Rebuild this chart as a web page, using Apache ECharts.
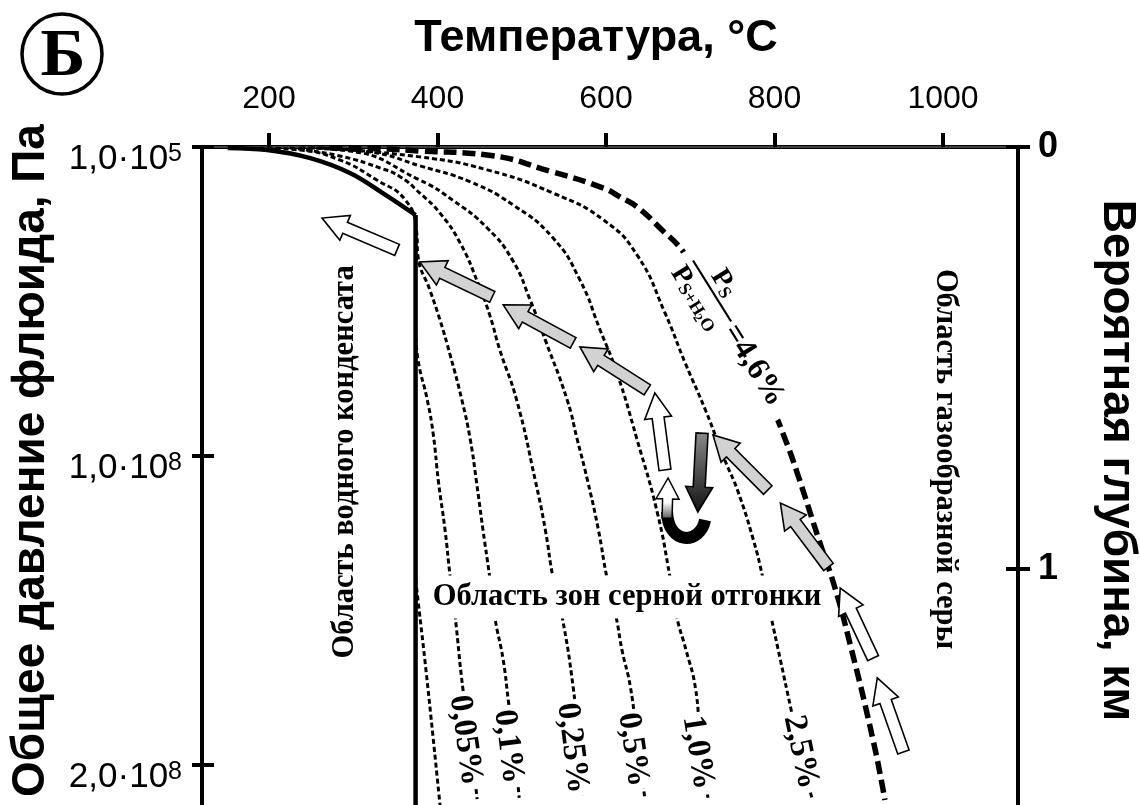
<!DOCTYPE html>
<html><head><meta charset="utf-8">
<script src="https://cdn.jsdelivr.net/npm/echarts@6/dist/echarts.min.js"></script>
<style>html,body{margin:0;padding:0;background:#fff}#c{width:1140px;height:805px}</style>
</head><body><div id="c"></div>
<script>
// ---- axis ticks / labels ----
const tempTicks = [200, 400, 600, 800, 1000];
const pressureTicks = [0, 1, 2];                 // units of 1e8 Pa (top = 1e5 Pa)
const pressureTickLabels = ['1,0·10{s|5}', '1,0·10{s|8}', '2,0·10{s|8}'];
const depthTicks = [0, 1];
const depthTickLabels = ['0', '1'];

// ---- curves: [temperature °C, pressure 1e8 Pa] ----
const waterCurve = [[151,0.003],[198,0.010],[249,0.036],[296,0.084],[335,0.149],[374,0.22]];
const criticalLine = [[374,0.22],[374,2.13]];
const iso000 = [[374,1.40],[377,1.47],[385,1.66],[394,1.89],[403,2.13]];
const iso005 = [[374,0.59],[377,0.69],[388,0.82],[395,0.93],[401,1.08],[409,1.24],[415,1.39],[421,1.52],[430,1.75],[439,1.92],[447,2.11]];
const iso01  = [[189,0.003],[237,0.010],[284,0.042],[328,0.107],[362,0.172],[375,0.269],[377,0.356],[391,0.463],[403,0.560],[415,0.673],[429,0.819],[439,0.948],[446,1.078],[454,1.239],[462,1.392],[468,1.521],[478,1.660],[484,1.790],[490,1.919],[497,2.106]];
const iso025 = [[225,0.003],[284,0.029],[332,0.068],[356,0.097],[379,0.149],[403,0.214],[427,0.311],[448,0.440],[462,0.544],[474,0.657],[494,0.819],[516,1.078],[528,1.239],[537,1.392],[548,1.521],[561,1.748],[567,1.919],[573,2.106]];
const iso05  = [[237,0.003],[296,0.013],[379,0.107],[418,0.172],[459,0.262],[489,0.366],[510,0.495],[528,0.625],[554,0.819],[566,0.948],[578,1.078],[591,1.239],[601,1.392],[612,1.521],[619,1.628],[629,1.748],[637,1.919],[646,2.106]];
const iso10  = [[249,0.003],[320,0.016],[379,0.061],[439,0.113],[490,0.188],[537,0.294],[569,0.430],[593,0.592],[613,0.731],[637,0.948],[661,1.184],[676,1.392],[684,1.521],[695,1.628],[706,1.748],[712,1.919],[721,2.106]];
const iso25  = [[261,0.003],[379,0.032],[459,0.074],[537,0.149],[597,0.236],[637,0.350],[670,0.537],[694,0.699],[718,0.851],[741,1.013],[756,1.110],[775,1.272],[786,1.392],[796,1.521],[807,1.660],[819,1.812],[830,1.951],[845,2.113]];
const iso46  = [[272,0.003],[332,0.006],[379,0.013],[459,0.026],[537,0.081],[597,0.133],[617,0.162],[637,0.194],[664,0.262],[692,0.340],[724,0.479],[759,0.657],[798,0.851],[813,0.948],[827,1.055],[854,1.282],[870,1.411],[887,1.579],[917,1.919],[931,2.113]];

const isoLabels = ['0,05%', '0,1%', '0,25%', '0,5%', '1,0%', '2,5%'];
// label anchors in data coords
const isoLabelAnchors = [[433,1.92],[484,1.94],[560,1.945],[632,1.95],[709,1.96],[831,1.958]];
const isoLabelRot = [-82, -83, -83, -82, -81, -78];

// arrows: [tailT, tailP, headT, headP, kind]
const arrows = [
  [352,0.333, 263,0.230,'white'],
  [465,0.485, 379,0.372,'gray'],
  [561,0.634, 478,0.511,'gray'],
  [649,0.786, 569,0.647,'gray'],
  [670,1.045, 658,0.796,'white'],
  [714,0.926, 709,1.181,'dark'],
  [792,1.110, 727,0.932,'gray'],
  [864,1.359, 807,1.152,'gray'],
  [917,1.654, 878,1.427,'white'],
  [953,1.958, 922,1.718,'white']
];
const uturnArrow = [672.5,1.201, 673.7,1.071];
const uturnCurl = [[672.5,1.181],[673.6,1.288],[711.6,1.288],[717.6,1.207]];

const regionNotes = [
  {text:'Область водного конденсата', at:[290,1.019], rot:90},
  {text:'Область газообразной серы', at:[1002,1.010], rot:-90},
  {text:'Область зон серной отгонки', at:[625,1.456], rot:0, bg:true}
];
const fractionAnchor = [725.9, 0.466];

const T_MIN = 120.5, T_MAX = 1089, P_MAX = 2.126, D_MAX = 1.557;
const SANS = '"Liberation Sans", Arial, sans-serif';
const SERIF = '"Liberation Serif", "Times New Roman", serif';

const chart = echarts.init(document.getElementById('c'));

function line(data, w, type, z, smooth) {
  return {type:'line', data, xAxisIndex:0, yAxisIndex:0, symbol:'none', smooth: smooth === undefined ? 0.5 : smooth,
    clip:true, silent:true, z, animation:false, lineStyle:{color:'#000', width:w, type, cap:'butt'}};
}
const thin = [5, 3];
const option = {
  animation:false,
  backgroundColor:'#fff',
  grid:{left:202, top:147, width:816, height:657, containLabel:false, outerBoundsMode:'none'},
  xAxis:[
    {type:'value', position:'top', min:T_MIN, max:T_MAX,
     name:'Температура, °C', nameLocation:'middle', nameGap:86,
     nameTextStyle:{fontFamily:SANS, fontWeight:'bold', fontSize:45, color:'#000', padding:[0,28,0,0]},
     axisLine:{show:true, lineStyle:{color:'#000', width:4}},
     axisTick:{show:true, inside:false, length:14, lineStyle:{width:4, color:'#000'}, customValues:tempTicks},
     axisLabel:{show:true, margin:32, fontFamily:SANS, fontSize:32, color:'#000', customValues:tempTicks,
       formatter:(v)=>String(Math.round(v))},
     splitLine:{show:false}},
    {type:'value', position:'bottom', min:T_MIN, max:T_MAX,
     axisLine:{show:true, lineStyle:{color:'#555', width:1.5}}, axisTick:{show:false}, axisLabel:{show:false}, splitLine:{show:false}}
  ],
  yAxis:[
    {type:'value', position:'left', inverse:true, min:0, max:P_MAX,
     name:'Общее давление флюида, Па', nameLocation:'middle', nameGap:148, nameRotate:90,
     nameTextStyle:{fontFamily:SANS, fontWeight:'bold', fontSize:46, color:'#000', padding:[0,0,0,30]},
     axisLine:{show:true, lineStyle:{color:'#000', width:4}},
     axisTick:{show:true, length:10, lineStyle:{width:4, color:'#000'}, customValues:pressureTicks},
     axisLabel:{show:true, margin:20, customValues:pressureTicks, fontFamily:SANS, fontSize:35, color:'#000',
       padding:[24,0,0,0],
       formatter:(v)=>pressureTickLabels[pressureTicks.indexOf(Math.round(v))] || '',
       rich:{s:{fontFamily:SANS, fontSize:25, verticalAlign:'top', color:'#000'}}},
     splitLine:{show:false}},
    {type:'value', position:'right', inverse:true, min:0, max:D_MAX,
     name:'Вероятная глубина, км', nameLocation:'middle', nameGap:76, nameRotate:-90,
     nameTextStyle:{fontFamily:SANS, fontWeight:'bold', fontSize:46, color:'#000', padding:[0,30,0,0]},
     axisLine:{show:true, lineStyle:{color:'#000', width:4}},
     axisTick:{show:true, length:12, lineStyle:{width:4, color:'#000'}, customValues:depthTicks},
     axisLabel:{show:true, margin:20, customValues:depthTicks, fontFamily:SANS, fontWeight:'bold', fontSize:36, color:'#000',
       formatter:(v)=>depthTickLabels[depthTicks.indexOf(Math.round(v))] || ''},
     splitLine:{show:false}},
    {type:'value', position:'left', inverse:true, min:0, max:P_MAX,
     axisLine:{show:false}, axisLabel:{show:false}, splitLine:{show:false},
     axisTick:{show:true, inside:true, length:12, lineStyle:{width:4, color:'#000'}, customValues:pressureTicks}},
    {type:'value', position:'right', inverse:true, min:0, max:D_MAX,
     axisLine:{show:false}, axisLabel:{show:false}, splitLine:{show:false},
     axisTick:{show:true, inside:true, length:12, lineStyle:{width:4, color:'#000'}, customValues:depthTicks}}
  ],
  series:[
    line(iso000, 3, thin, 3),
    line(iso005, 3, thin, 3),
    line(iso01, 3, thin, 3),
    line(iso025, 3, thin, 3),
    line(iso05, 3, thin, 3),
    line(iso10, 3, thin, 3),
    line(iso25, 3, thin, 3),
    line(iso46, 5.5, [13, 6], 4),
    line(waterCurve, 4.5, 'solid', 5, 0.4),
    line(criticalLine, 4.5, 'solid', 5, false)
  ]
};
chart.setOption(option);

const px = (t, p) => chart.convertToPixel({seriesIndex:0}, [t, p]);
const deg = (d) => d * Math.PI / 180;

function arrowPts(t, h, sw, hw, hl) {
  const dx = h[0]-t[0], dy = h[1]-t[1], L = Math.hypot(dx, dy);
  const ux = dx/L, uy = dy/L, nx = -uy, ny = ux;
  const nk = [h[0]-ux*hl, h[1]-uy*hl];
  return [
    [t[0]+nx*sw/2, t[1]+ny*sw/2], [nk[0]+nx*sw/2, nk[1]+ny*sw/2], [nk[0]+nx*hw/2, nk[1]+ny*hw/2],
    [h[0], h[1]], [nk[0]-nx*hw/2, nk[1]-ny*hw/2], [nk[0]-nx*sw/2, nk[1]-ny*sw/2], [t[0]-nx*sw/2, t[1]-ny*sw/2]
  ];
}
const els = [];
arrows.forEach((a) => {
  const t = px(a[0], a[1]), h = px(a[2], a[3]);
  let fill = '#fff';
  if (a[4] === 'gray') fill = '#d2d2d2';
  if (a[4] === 'dark') fill = new echarts.graphic.LinearGradient(0,0,0,1,[{offset:0,color:'#8a8a8a'},{offset:1,color:'#111'}]);
  els.push({type:'polygon', z:50, shape:{points:arrowPts(t, h, 12, 27, 25)},
    style:{fill, stroke:'#000', lineWidth:1.6}});
});
// u-turn arrow
{
  const c = uturnCurl.map(q => px(q[0], q[1]));
  els.push({type:'bezierCurve', z:49, shape:{x1:c[0][0], y1:c[0][1], cpx1:c[1][0], cpy1:c[1][1], cpx2:c[2][0], cpy2:c[2][1], x2:c[3][0], y2:c[3][1]},
    style:{stroke:'#000', lineWidth:12, fill:null}});
  const t = px(uturnArrow[0], uturnArrow[1]), h = px(uturnArrow[2], uturnArrow[3]);
  els.push({type:'polygon', z:50, shape:{points:arrowPts(t, h, 10, 23, 21)},
    style:{fill:new echarts.graphic.LinearGradient(0,0,0,1,[{offset:0,color:'#fff'},{offset:0.6,color:'#fff'},{offset:1,color:'#555'}]), stroke:'#000', lineWidth:1.5}});
}
// region notes
regionNotes.forEach((n) => {
  const p = px(n.at[0], n.at[1]);
  els.push({type:'text', z:60, x:p[0], y:p[1], rotation:deg(n.rot),
    style:{text:n.text, fontFamily:SERIF, fontWeight:'bold', fontSize:30.5, fill:'#000', align:'center', verticalAlign:'middle',
      backgroundColor: n.bg ? '#fff' : null, padding: n.bg ? [6, 4] : 0}});
});
// isopleth labels
isoLabels.forEach((s, i) => {
  const p = px(isoLabelAnchors[i][0], isoLabelAnchors[i][1]);
  els.push({type:'text', z:60, x:p[0], y:p[1], rotation:deg(isoLabelRot[i]),
    style:{text:s, fontFamily:SERIF, fontWeight:'bold', fontSize:33, fill:'#000', align:'center', verticalAlign:'middle',
      backgroundColor:'#fff', padding:[8, 3, 8, 3]}});
});
// fraction label Ps / Ps+H2O = 4,6%
{
  const p = px(fractionAnchor[0], fractionAnchor[1]);
  const ts = (text, x, y, size, align) => ({type:'text', x, y, z:61, style:{text, fontFamily:SERIF, fontWeight:'bold', fontSize:size, fill:'#000', align:align||'left', verticalAlign:'middle'}});
  els.push({type:'group', z:60, x:p[0], y:p[1], rotation:deg(-58), children:[
    {type:'rect', shape:{x:-48, y:-4, width:192, height:27}, style:{fill:'#fff'}, z:60},
    {type:'line', shape:{x1:-36, y1:0, x2:36, y2:0}, style:{stroke:'#000', lineWidth:2.2}, z:61},
    ts('P', -14, -14, 28),
    ts('S', 3, -9, 18),
    ts('P', -38, 18, 28),
    ts('S+H', -21, 23, 18),
    ts('2', 12, 27, 13),
    ts('O', 19, 23, 18),
    ts('=4,6%', 40, 4, 32)
  ]});
}
// panel mark "Б"
els.push({type:'circle', z:60, shape:{cx:62, cy:54, r:40}, style:{fill:'#fff', stroke:'#000', lineWidth:3.5}});
els.push({type:'text', z:61, x:63, y:57, style:{text:'Б', fontFamily:SERIF, fontWeight:'bold', fontSize:68, fill:'#000', align:'center', verticalAlign:'middle'}});

chart.setOption({graphic:{elements:els}});
</script>
</body></html>
